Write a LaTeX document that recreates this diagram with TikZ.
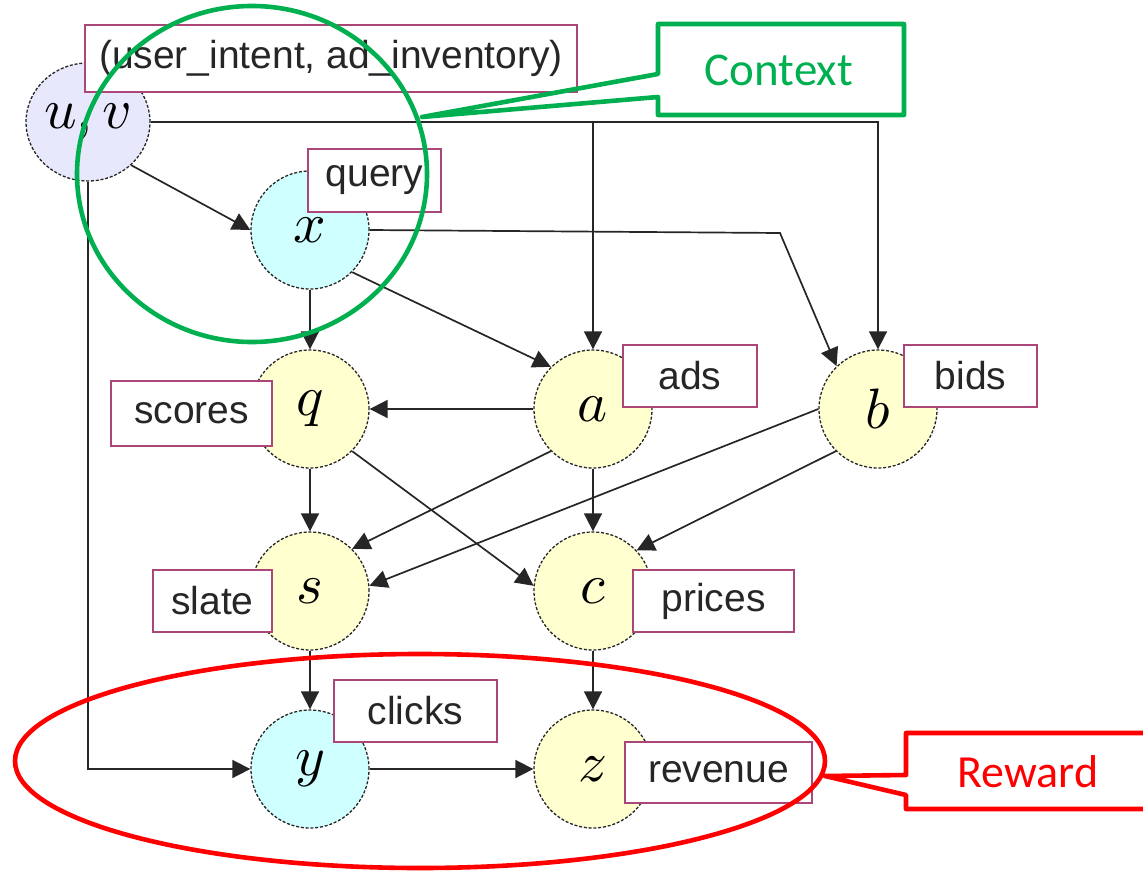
\documentclass[tikz,border=0pt]{standalone}
\usepackage{graphicx}
\usepackage{fontspec}
\setmainfont{Liberation Sans}
\newfontfamily\calib{Carlito}
\usetikzlibrary{shapes.geometric,arrows.meta}
\definecolor{lblborder}{RGB}{170,70,120}
\definecolor{nyellow}{RGB}{255,255,208}
\definecolor{ncyan}{RGB}{208,255,255}
\definecolor{nlav}{RGB}{232,232,252}
\definecolor{cgreen}{RGB}{0,176,80}
\definecolor{cred}{RGB}{255,0,0}
\newcommand{\varsym}[1]{\scalebox{5.7}{$#1$}}
\begin{document}
\begin{tikzpicture}[x=1pt,y=-1pt,
  var/.style={ellipse,draw=black!85,dash pattern=on 3pt off 1.8pt,line width=1.3pt,minimum width=118pt,minimum height=118pt,inner sep=0pt},
  yel/.style={var,fill=nyellow},
  cyn/.style={var,fill=ncyan},
  lbl/.style={draw=lblborder,line width=1.6pt,fill=white,inner sep=0pt,text=black!85,font=\fontsize{39}{44}\selectfont},
  arr/.style={line width=1.7pt,draw=black!85,-{Triangle[length=18pt,width=18pt]}},
  ann/.style={line width=4.6pt,line join=round}
]
\useasboundingbox (0,0) rectangle (1143,872);
% variable nodes
\node[var,fill=nlav,minimum width=120pt] (nuv) at (88,122) {\varsym{u,v}};
\node[cyn] (nx) at (310,230) {\varsym{x}};
\node[yel] (nq) at (310,409) {\varsym{q}};
\node[yel] (na) at (593,409) {\varsym{a}};
\node[yel] (nb) at (878,409) {\varsym{b}};
\node[yel] (ns) at (310,591) {\varsym{s}};
\node[yel] (nc) at (593,591) {\varsym{c}};
\node[cyn] (ny) at (310,769) {\varsym{y}};
\node[yel] (nz) at (593,769) {\varsym{z}};
% connectors
\coordinate (bendxb) at (780,233);
\draw[arr] (nuv.-45) -- (nx.west);
\draw[arr] (nuv.east) -| (nb.north);
\draw[arr] (nuv.east -| na.north) -- (na.north);
\draw[arr] (nuv.south) |- (ny.west);
\draw[arr] (nx.south) -- (nq.north);
\draw[arr] (nx.-45) -- (na.135);
\draw[arr] (nx.east) -- (bendxb) -- (nb.134);
\draw[arr] (na.west) -- (nq.east);
\draw[arr] (nq.south) -- (ns.north);
\draw[arr] (nq.-45) -- (nc.175);
\draw[arr] (na.225) -- (ns.45);
\draw[arr] (nb.west) -- (ns.5);
\draw[arr] (na.south) -- (nc.north);
\draw[arr] (nb.225) -- (nc.43);
\draw[arr] (ns.south) -- (ny.north);
\draw[arr] (nc.south) -- (nz.north);
\draw[arr] (ny.east) -- (nz.west);
% label boxes
\node[lbl,minimum width=492pt,minimum height=67pt] (lui) at (331,58.5) {(user\_intent, ad\_inventory)};
\node[lbl,minimum width=133pt,minimum height=63pt] (lquery) at (374.5,180.5) {query};
\node[lbl,minimum width=161pt,minimum height=65pt] (lscores) at (191.5,413.5) {scores};
\node[lbl,minimum width=119pt,minimum height=62pt] (lslate) at (212.5,601) {slate};
\node[lbl,minimum width=134pt,minimum height=62pt] (lads) at (690,376) {ads};
\node[lbl,minimum width=133pt,minimum height=62pt] (lbids) at (970.5,376) {bids};
\node[lbl,minimum width=161pt,minimum height=62pt] (lprices) at (713.5,601) {prices};
\node[lbl,minimum width=163pt,minimum height=62pt] (lclicks) at (415.5,711) {clicks};
\node[lbl,minimum width=187pt,minimum height=61pt] (lrev) at (718.5,772.5) {revenue};
% context annotation
\draw[ann,draw=cgreen] (252,174) ellipse [x radius=175, y radius=168];
\draw[ann,draw=cgreen] (658,24) -- (904,24) -- (904,115) -- (658,115) -- (658,97) -- (422,117) -- (658,74) -- cycle;
\node[text=cgreen,font=\calib\fontsize{47}{52}\selectfont] (tctx) at (779,70) {Context};
% reward annotation
\draw[ann,draw=cred] (420,761) ellipse [x radius=405, y radius=107];
\draw[ann,draw=cred] (906,733) -- (1160,733) -- (1160,809) -- (906,809) -- (906,795) -- (825,776) -- (906,775) -- cycle;
\node[text=cred,font=\calib\fontsize{46}{52}\selectfont] (trew) at (1028,772) {Reward};
\end{tikzpicture}
\end{document}
